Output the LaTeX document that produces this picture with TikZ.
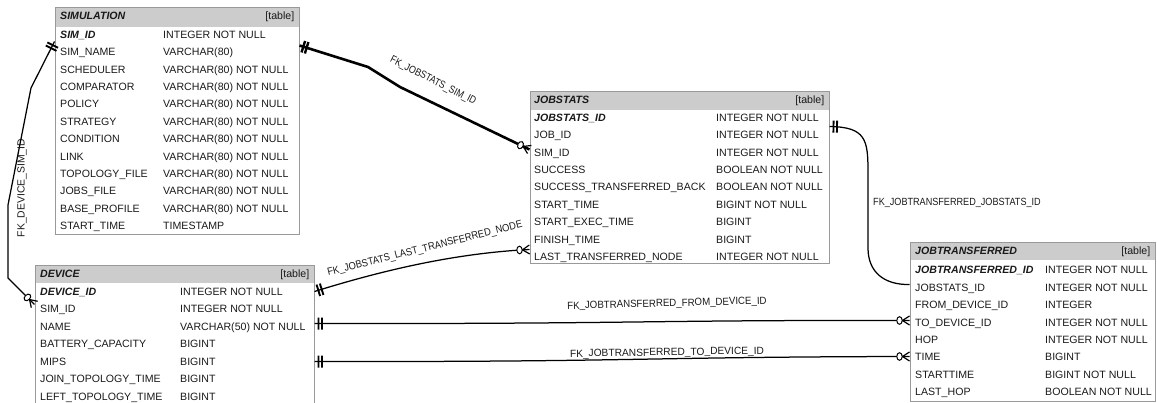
\documentclass[tikz,border=0pt]{standalone}
\usepackage{fontspec}
\setmainfont{Liberation Sans}
\usetikzlibrary{fit,calc,decorations.markings}

\definecolor{tblborder}{gray}{0.6}
\definecolor{hdrfill}{gray}{0.8}
\definecolor{ink}{gray}{0.1}

% label text, squeezed horizontally by the given factor
\newcommand\fklabel[2]{\scalebox{#1}[1]{#2}}

\tikzset{
  tbl/.style={draw=tblborder, line width=1pt, inner sep=0pt},
  hdr/.style={fill=hdrfill, draw=none, inner sep=0pt},
  txt/.style={anchor=base west, inner sep=0pt, text=ink, font=\fontsize{10.6}{12}\selectfont},
  key/.style={txt, font=\fontsize{10.6}{12}\selectfont\bfseries\itshape},
  title/.style={txt, font=\fontsize{10.6}{12}\selectfont\bfseries\itshape},
  tag/.style={anchor=base east, inner sep=0pt, text=ink, font=\fontsize{10.6}{12}\selectfont},
  fk/.style={draw=black, line width=1.25pt},
  fkbold/.style={draw=black, line width=2.6pt},
  fklbl/.style={inner sep=0pt, text=ink, font=\fontsize{10.4}{11}\selectfont},
  onemark/.style={postaction={decorate, decoration={markings,
    mark=at position 0 with {\draw[black, line width=#1, line cap=butt]
      (4pt,-6pt) -- (4pt,6pt) (7.5pt,-6pt) -- (7.5pt,6pt);}}}},
  onemark/.default=1.9pt,
  manymark/.style={postaction={decorate, decoration={markings,
    mark=at position 1 with {
      \draw[black, line width=1.2pt] (-7pt,0pt) -- (0pt,4.5pt) (-7pt,0pt) -- (0pt,-4.5pt);
      \draw[black, line width=1pt, fill=white] (-10pt,0pt) ellipse [x radius=2.7pt, y radius=3.8pt];}}}},
}

\begin{document}
\begin{tikzpicture}[x=1pt, y=-1pt]
\useasboundingbox (0,0) rectangle (1157,403);
\clip (0,0) rectangle (1157,403);

% ---------- SIMULATION ----------
\node[hdr, fit={(55,8) (299,27)}] (sim-h) {};
\node[tbl, fit={(55,8) (299,235)}] (sim) {};
\node[title] (sim-title) at (60,19.5) {SIMULATION};
\node[tag] (sim-tag) at (294.5,19.5) {[table]};
\node[key] (sim-k) at (60,38.5) {SIM\_ID};
\node[txt] (sim-kt) at (163,38.5) {INTEGER NOT NULL};
\foreach \n/\t [count=\i] in {SIM\_NAME/VARCHAR(80), SCHEDULER/VARCHAR(80) NOT NULL,
  COMPARATOR/VARCHAR(80) NOT NULL, POLICY/VARCHAR(80) NOT NULL,
  STRATEGY/VARCHAR(80) NOT NULL, CONDITION/VARCHAR(80) NOT NULL,
  LINK/VARCHAR(80) NOT NULL, TOPOLOGY\_FILE/VARCHAR(80) NOT NULL,
  JOBS\_FILE/VARCHAR(80) NOT NULL, BASE\_PROFILE/VARCHAR(80) NOT NULL,
  START\_TIME/TIMESTAMP}{
  \node[txt] (sim-n\i) at (60,38.5+17.36*\i) {\n};
  \node[txt] (sim-t\i) at (163,38.5+17.36*\i) {\t};
}

% ---------- JOBSTATS ----------
\node[hdr, fit={(530,92) (829,110.5)}] (js-h) {};
\node[tbl, fit={(530,92) (829,264)}] (js) {};
\node[title] (js-title) at (534,103.5) {JOBSTATS};
\node[tag] (js-tag) at (824.5,103.5) {[table]};
\node[key] (js-k) at (534,121.3) {JOBSTATS\_ID};
\node[txt] (js-kt) at (716,121.3) {INTEGER NOT NULL};
\foreach \n/\t [count=\i] in {JOB\_ID/INTEGER NOT NULL, SIM\_ID/INTEGER NOT NULL,
  SUCCESS/BOOLEAN NOT NULL, SUCCESS\_TRANSFERRED\_BACK/BOOLEAN NOT NULL,
  START\_TIME/BIGINT NOT NULL, START\_EXEC\_TIME/BIGINT, FINISH\_TIME/BIGINT,
  LAST\_TRANSFERRED\_NODE/INTEGER NOT NULL}{
  \node[txt] (js-n\i) at (534,121.3+17.4*\i) {\n};
  \node[txt] (js-t\i) at (716,121.3+17.4*\i) {\t};
}

% ---------- DEVICE ----------
\node[hdr, fit={(35,266) (314,283.5)}] (dev-h) {};
\node[tbl, fit={(35,266) (314,430)}] (dev) {};
\node[title] (dev-title) at (40,277.5) {DEVICE};
\node[tag] (dev-tag) at (309.5,277.5) {[table]};
\node[key] (dev-k) at (40,295.3) {DEVICE\_ID};
\node[txt] (dev-kt) at (180,295.3) {INTEGER NOT NULL};
\foreach \n/\t [count=\i] in {SIM\_ID/INTEGER NOT NULL, NAME/VARCHAR(50) NOT NULL,
  BATTERY\_CAPACITY/BIGINT, MIPS/BIGINT, JOIN\_TOPOLOGY\_TIME/BIGINT,
  LEFT\_TOPOLOGY\_TIME/BIGINT}{
  \node[txt] (dev-n\i) at (40,295.3+17.5*\i) {\n};
  \node[txt] (dev-t\i) at (180,295.3+17.5*\i) {\t};
}

% ---------- JOBTRANSFERRED ----------
\node[hdr, fit={(910,243) (1155,260.5)}] (jt-h) {};
\node[tbl, fit={(910,243) (1155,401.5)}] (jt) {};
\node[title] (jt-title) at (915,254.5) {JOBTRANSFERRED};
\node[tag] (jt-tag) at (1150.5,254.5) {[table]};
\node[key] (jt-k) at (915,274) {JOBTRANSFERRED\_ID};
\node[txt] (jt-kt) at (1045,274) {INTEGER NOT NULL};
\foreach \n/\t [count=\i] in {JOBSTATS\_ID/INTEGER NOT NULL, FROM\_DEVICE\_ID/INTEGER,
  TO\_DEVICE\_ID/INTEGER NOT NULL, HOP/INTEGER NOT NULL, TIME/BIGINT,
  STARTTIME/BIGINT NOT NULL, LAST\_HOP/BOOLEAN NOT NULL}{
  \node[txt] (jt-n\i) at (915,274+17.4*\i) {\n};
  \node[txt] (jt-t\i) at (1045,274+17.4*\i) {\t};
}

% ---------- foreign keys ----------
% FK_DEVICE_SIM_ID
\draw[fk, onemark, manymark] ($(sim.north west)+(0,34)$) -- (31,88) -- (8,205) -- (8,278)
  -- ($(dev.north west)+(0,39)$);
\node[fklbl, rotate=90] (l-devsim) at (22,188) {\fklabel{1}{FK\_DEVICE\_SIM\_ID}};

% FK_JOBSTATS_SIM_ID
\draw[fkbold, onemark=2.4pt, manymark] ($(sim.north east)+(0,38)$) -- (368,67) -- (400,87)
  -- ($(js.north west)+(0,58)$);
\node[fklbl, rotate=-27] (l-jssim) at (433,81) {\fklabel{0.85}{FK\_JOBSTATS\_SIM\_ID}};

% FK_JOBSTATS_LAST_TRANSFERRED_NODE
\draw[fk, onemark, manymark] ($(dev.north east)+(0,26)$) .. controls (390,268) and (460,253)
  .. ($(js.north west)+(0,158)$);
\node[fklbl, rotate=14] (l-jslast) at (425,249) {\fklabel{0.9}{FK\_JOBSTATS\_LAST\_TRANSFERRED\_NODE}};

% FK_JOBTRANSFERRED_JOBSTATS_ID
\draw[fk, onemark, manymark] ($(js.north east)+(0,35)$) .. controls (866,127) and (868,140)
  .. (868,172) -- (868,248) .. controls (868,272) and (884,285) .. ($(jt.north west)+(0,42)$);
\node[fklbl, anchor=west] (l-jtjs) at (873,203) {\fklabel{0.875}{FK\_JOBTRANSFERRED\_JOBSTATS\_ID}};

% FK_JOBTRANSFERRED_FROM_DEVICE_ID
\draw[fk, onemark, manymark] ($(dev.north east)+(0,58)$) .. controls (640,324) and (640,320)
  .. ($(jt.north west)+(0,78)$);
\node[fklbl, rotate=1.5] (l-jtfrom) at (667,304) {\fklabel{0.93}{FK\_JOBTRANSFERRED\_FROM\_DEVICE\_ID}};

% FK_JOBTRANSFERRED_TO_DEVICE_ID
\draw[fk, onemark, manymark] ($(dev.north east)+(0,96)$) .. controls (640,362) and (640,357)
  .. ($(jt.north west)+(0,114)$);
\node[fklbl, rotate=1] (l-jtto) at (667,353) {\fklabel{0.98}{FK\_JOBTRANSFERRED\_TO\_DEVICE\_ID}};
\end{tikzpicture}
\end{document}
